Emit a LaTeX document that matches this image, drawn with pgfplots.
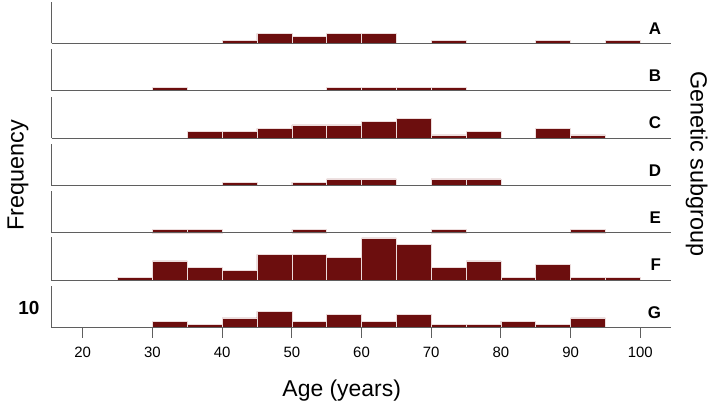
\documentclass[border=0pt]{standalone}
\usepackage{pgfplots}
\pgfplotsset{compat=1.18}
\usepackage{fontspec}
\setmainfont{Liberation Sans}
\definecolor{barred}{RGB}{108,14,14}
\definecolor{baredge}{RGB}{236,220,220}
\definecolor{axgray}{RGB}{95,95,95}
\pgfplotsset{
  panel/.style={
    scale only axis, width=619.3bp, height=41.5bp,
    xmin=15.55, xmax=104.4, ymin=0, ymax=12.65,
    axis x line=bottom, axis y line=left,
    axis line style={-, draw=axgray, line width=1bp},
    xtick=\empty, ytick=\empty, axis on top, clip=false,
    anchor=south west,
    /pgf/number format/assume math mode=true,
  },
  hist/.style={ybar, bar width=5, bar shift=0pt, fill=barred, draw=baredge, line width=0.6bp},
}
\newcommand{\letterfont}{\fontsize{17}{20}\selectfont\bfseries}
\begin{document}
\begin{tikzpicture}
\useasboundingbox (0bp,0bp) rectangle (711bp,-404bp);
% A
\begin{axis}[panel, at={(51.7bp,-43.3bp)}]
\addplot[hist] coordinates {(42.5,1)(47.5,3)(52.5,2)(57.5,3)(62.5,3)(72.5,1)(87.5,1)(97.5,1)};
\end{axis}
% B
\begin{axis}[panel, at={(51.7bp,-90.7bp)}]
\addplot[hist] coordinates {(32.5,1)(57.5,1)(62.5,1)(67.5,1)(72.5,1)};
\end{axis}
% C
\begin{axis}[panel, at={(51.7bp,-138.1bp)}]
\addplot[hist] coordinates {(37.5,2)(42.5,2)(47.5,3)(52.5,4)(57.5,4)(62.5,5)(67.5,6)(72.5,1)(77.5,2)(87.5,3)(92.5,1)};
\end{axis}
% D
\begin{axis}[panel, at={(51.7bp,-185.5bp)}]
\addplot[hist] coordinates {(42.5,1)(52.5,1)(57.5,2)(62.5,2)(72.5,2)(77.5,2)};
\end{axis}
% E
\begin{axis}[panel, at={(51.7bp,-232.9bp)}]
\addplot[hist] coordinates {(32.5,1)(37.5,1)(52.5,1)(72.5,1)(92.5,1)};
\end{axis}
% F
\begin{axis}[panel, at={(51.7bp,-280.5bp)}, height=43.3bp, ymax=13.2]
\addplot[hist] coordinates {(27.5,1)(32.5,6)(37.5,4)(42.5,3)(47.5,8)(52.5,8)(57.5,7)(62.5,13)(67.5,11)(72.5,4)(77.5,6)(82.5,1)(87.5,5)(92.5,1)(97.5,1)};
\end{axis}
% G
\begin{axis}[panel, at={(51.7bp,-327.7bp)},
  xtick={20,30,...,100}, tick align=outside, major tick length=10bp,
  tick style={draw=axgray, line width=1bp},
  xticklabel style={font=\fontsize{15}{18}\selectfont, yshift=-6bp}]
\addplot[hist] coordinates {(32.5,2)(37.5,1)(42.5,3)(47.5,5)(52.5,2)(57.5,4)(62.5,2)(67.5,4)(72.5,1)(77.5,1)(82.5,2)(87.5,1)(92.5,3)};
\end{axis}
% panel letters
\node[anchor=east, font=\letterfont] at (664.5bp,-28.3bp) {A};
\node[anchor=east, font=\letterfont] at (664.5bp,-75.5bp) {B};
\node[anchor=east, font=\letterfont] at (664.5bp,-122.9bp) {C};
\node[anchor=east, font=\letterfont] at (664.5bp,-170.3bp) {D};
\node[anchor=east, font=\letterfont] at (664.5bp,-217.7bp) {E};
\node[anchor=east, font=\letterfont] at (664.5bp,-265.1bp) {F};
\node[anchor=east, font=\letterfont] at (664.5bp,-312.2bp) {G};
\node[font=\fontsize{19}{22}\selectfont\bfseries] at (29bp,-307.5bp) {10};
% titles
\node[anchor=base, font=\fontsize{23}{28}\selectfont] at (341.7bp,-396.7bp) {Age (years)};
\node[anchor=base, rotate=90, font=\fontsize{23.5}{28}\selectfont] at (23.5bp,-175bp) {Frequency};
\node[anchor=base, rotate=-90, font=\fontsize{23.5}{28}\selectfont] at (690.5bp,-164bp) {Genetic subgroup};
\end{tikzpicture}
\end{document}
